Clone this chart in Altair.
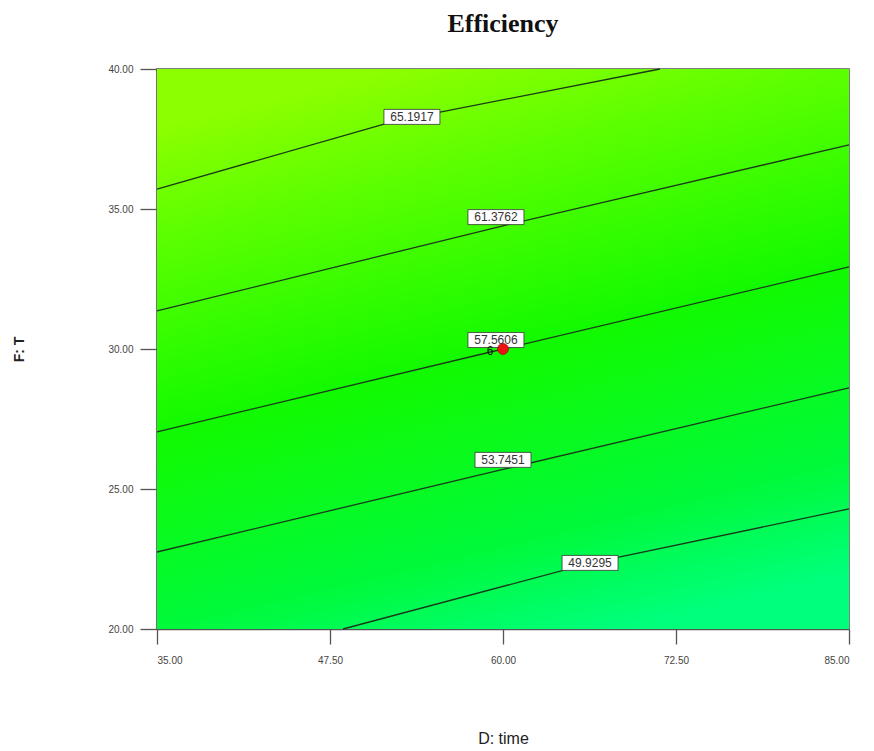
import altair as alt
import pandas as pd

# Contour levels and their polyline points (data units)
levels = ["65.1917", "61.3762", "57.5606", "53.7451", "49.9295"]
line_x = [
    [35.0, 51.47, 55.45, 71.34],
    [35.0, 60.0, 85.0],
    [35.0, 60.0, 85.0],
    [35.0, 60.0, 85.0],
    [48.44, 66.3, 85.0],
]
line_y = [
    [35.71, 38.04, 38.46, 40.0],
    [31.36, 34.40, 37.29],
    [27.04, 30.00, 32.93],
    [22.75, 25.70, 28.61],
    [20.00, 22.35, 24.29],
]
label_x = [53.42, 59.49, 59.49, 60.0, 66.29]
label_y = [38.29, 34.71, 30.32, 26.04, 22.36]

design_x = [60.0]
design_y = [30.0]
design_label = ["6"]

x_ticks = [35.0, 47.5, 60.0, 72.5, 85.0]
y_ticks = [20.0, 25.0, 30.0, 35.0, 40.0]

rows = []
for lev, xs, ys in zip(levels, line_x, line_y):
    for i, (a, b) in enumerate(zip(xs, ys)):
        rows.append({"level": lev, "x": a, "y": b, "i": i})
lines_df = pd.DataFrame(rows)
labels_df = pd.DataFrame({"level": levels, "x": label_x, "y": label_y})
pt_df = pd.DataFrame({"x": design_x, "y": design_y, "lab": design_label})
bg_df = pd.DataFrame({"x": [35.0], "x2": [85.0], "y": [20.0], "y2": [40.0]})

xs = alt.Scale(domain=[35, 85], nice=False, zero=False)
ys = alt.Scale(domain=[20, 40], nice=False, zero=False)

grad = alt.Gradient(
    gradient="linear",
    x1=0.35, y1=0, x2=0.65, y2=1,
    stops=[
        alt.GradientStop(offset=0.0, color="#8CFF00"),
        alt.GradientStop(offset=0.18, color="#5CFF00"),
        alt.GradientStop(offset=0.5, color="#12FA00"),
        alt.GradientStop(offset=0.82, color="#00FA3A"),
        alt.GradientStop(offset=1.0, color="#00FF7A"),
    ],
)

bg = alt.Chart(bg_df).mark_rect(color=grad).encode(
    x=alt.X("x:Q", scale=xs,
            axis=alt.Axis(title="D: time", values=x_ticks, format=".2f",
                          tickSize=15, labelPadding=11, titlePadding=65,
                          titleFontSize=16, titleFontWeight="normal",
                          titleColor="#222")),
    x2="x2:Q",
    y=alt.Y("y:Q", scale=ys,
            axis=alt.Axis(title="F: T", values=y_ticks, format=".2f",
                          tickSize=17, labelPadding=7, titlePadding=81,
                          titleFontSize=14, titleFontWeight="bold",
                          titleColor="#222")),
    y2="y2:Q",
)

lines = alt.Chart(lines_df).mark_line(color="#1a3a1a", strokeWidth=1.3).encode(
    x=alt.X("x:Q", scale=xs), y=alt.Y("y:Q", scale=ys),
    detail="level:N", order="i:Q",
)

boxes = alt.Chart(labels_df).mark_rect(
    width=56, height=15, fill="white", stroke="#333", strokeWidth=0.8
).encode(x=alt.X("x:Q", scale=xs), y=alt.Y("y:Q", scale=ys))

texts = alt.Chart(labels_df).mark_text(
    font="Liberation Sans", fontSize=12, color="#333"
).encode(x=alt.X("x:Q", scale=xs), y=alt.Y("y:Q", scale=ys), text="level:N")

pt = alt.Chart(pt_df).mark_circle(size=120, color="#EE1111", opacity=1,
                                  stroke="#991111", strokeWidth=0.8).encode(
    x=alt.X("x:Q", scale=xs), y=alt.Y("y:Q", scale=ys))

pt_lab = alt.Chart(pt_df).mark_text(
    font="Liberation Sans", fontSize=12, color="#111", dx=-13, dy=2
).encode(x=alt.X("x:Q", scale=xs), y=alt.Y("y:Q", scale=ys), text="lab:N")

chart = alt.layer(bg, lines, boxes, texts, pt, pt_lab).properties(
    width=692, height=560,
    title=alt.TitleParams("Efficiency", font="Liberation Serif", fontSize=26,
                          fontWeight="bold", color="#111", offset=27),
    autosize=alt.AutoSizeParams(type="none"),
    padding={"left": 149, "top": 61, "right": 17, "bottom": 121},
).configure_view(stroke="#555", strokeWidth=1.5).configure_axis(
    grid=False, domainColor="#555", tickColor="#555", domainWidth=1.5,
    tickWidth=1.3, labelColor="#444", labelFont="Liberation Sans",
    labelFontSize=10, titleFont="Liberation Sans",
).configure_title(anchor="middle")

chart.save("out.html", embed_options={"renderer": "svg", "actions": False})
